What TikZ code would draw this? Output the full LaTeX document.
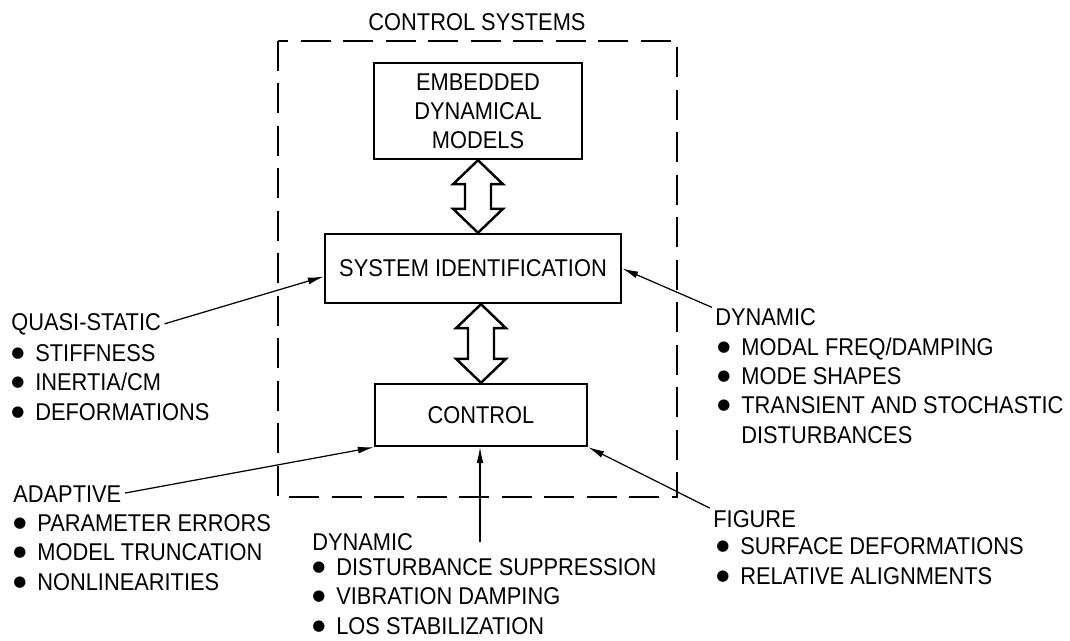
\documentclass[tikz,border=0pt]{standalone}
\usepackage{fontspec}
\setmainfont{Liberation Sans}[FakeStretch=0.9]
\newfontfamily\dotfont{DejaVu Sans}
\usetikzlibrary{arrows.meta,positioning,calc}

\tikzset{
  blk/.style={draw, line width=1.4pt, align=center, inner sep=0pt},
  hd/.style={anchor=base west, inner sep=0pt},
  lst/.style={anchor=base west, align=left, inner sep=0pt},
  lead/.style={-{Latex[length=3.2mm,width=1.4mm]}, line width=0.7pt, shorten <=2pt},
  hollow/.style={draw, line width=1.4pt, line join=miter, fill=white},
}
\newcommand\itm{\makebox[0.48cm][l]{\raisebox{2.2pt}{\dotfont\fontsize{8.5}{8.5}\selectfont ●}}}
% double headed hollow arrow between two boxes
\newcommand\hollowarrow[2]{%
  \path[hollow] let \p1=(#1), \p2=(#2) in
    (\x1,\y1) -- (\x1+0.5cm,\y1-0.48cm) -- (\x1+0.26cm,\y1-0.48cm)
    -- (\x1+0.26cm,\y2+0.48cm) -- (\x1+0.5cm,\y2+0.48cm) -- (\x1,\y2)
    -- (\x1-0.5cm,\y2+0.48cm) -- (\x1-0.26cm,\y2+0.48cm)
    -- (\x1-0.26cm,\y1-0.48cm) -- (\x1-0.5cm,\y1-0.48cm) -- cycle;}

\begin{document}
\begin{tikzpicture}[x=0.02cm, y=-0.02cm, font=\fontsize{13.8}{16.6}\selectfont]
  \useasboundingbox (0,0) rectangle (1070,641);

  % control system frame
  \node (title) at (477,22) {CONTROL SYSTEMS};
  \draw[dashed, dash pattern=on 0.6cm off 0.25cm, line width=1.1pt]
    (278,41) rectangle (677,497);

  \node[blk, minimum width=4.16cm, minimum height=1.92cm] (emb) at (478,111)
    {EMBEDDED\\DYNAMICAL\\MODELS};
  \node[blk, minimum width=5.92cm, minimum height=1.38cm] (sysid) at (473,268.5)
    {SYSTEM IDENTIFICATION};
  \node[blk, minimum width=4.24cm, minimum height=1.24cm] (ctrl) at (481,415)
    {CONTROL};

  \hollowarrow{emb.south}{sysid.north}
  \hollowarrow{sysid.south -| ctrl.north}{ctrl.north}

  % inputs (list nodes sit on the baseline of their last line)
  \node[hd] (qs) at (11,331) {QUASI-STATIC};
  \node[lst] (qsl) at (11,420) {\itm STIFFNESS\\ \itm INERTIA/CM\\ \itm DEFORMATIONS};

  \node[hd] (dynr) at (715,326) {DYNAMIC};
  \node[lst] (dynrl) at (717,443) {\itm MODAL FREQ/DAMPING\\ \itm MODE SHAPES\\
    \itm TRANSIENT AND STOCHASTIC\\ \hspace*{0.48cm}DISTURBANCES};

  \node[hd] (adp) at (13,502) {ADAPTIVE};
  \node[lst] (adpl) at (13,590) {\itm PARAMETER ERRORS\\ \itm MODEL TRUNCATION\\
    \itm NONLINEARITIES};

  \node[hd] (dynb) at (312,550) {DYNAMIC};
  \node[lst] (dynbl) at (312,634) {\itm DISTURBANCE SUPPRESSION\\
    \itm VIBRATION DAMPING\\ \itm LOS STABILIZATION};

  \node[hd] (fig) at (713,527) {FIGURE};
  \node[lst] (figl) at (716,584) {\itm SURFACE DEFORMATIONS\\ \itm RELATIVE ALIGNMENTS};

  \coordinate (vs) at (480,546);

  \draw[lead] (qs.east) -- ([yshift=-0.16cm]sysid.west);
  \draw[lead] (dynr.north west) -- (sysid.east);
  \draw[lead] (adp.east) -- (ctrl.south west);
  \draw[lead] (fig.north west) -- (ctrl.south east);
  \draw[lead] (vs) -- (vs |- ctrl.south);
\end{tikzpicture}
\end{document}
